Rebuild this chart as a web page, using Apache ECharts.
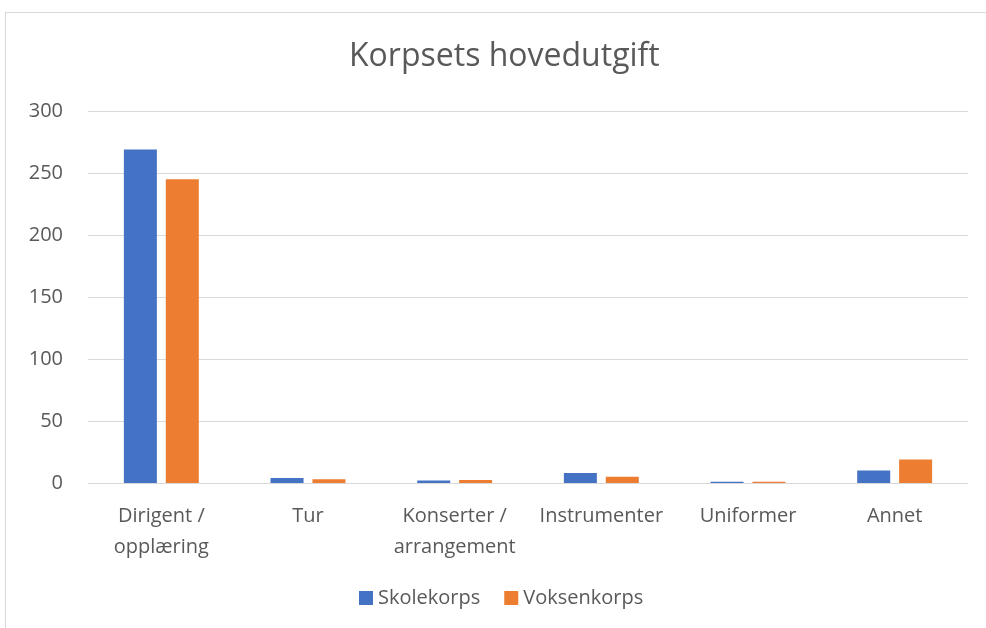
<!DOCTYPE html>
<html>
<head>
<meta charset="utf-8">
<script src="https://cdn.jsdelivr.net/npm/echarts@6/dist/echarts.min.js"></script>
<style>
  html, body { margin: 0; padding: 0; background: #fff; }
  #main { width: 986px; height: 628px; }
  .frame { position: absolute; left: 5px; top: 12px; width: 990px; height: 630px; border: 1px solid #d9d9d9; box-sizing: border-box; pointer-events: none; }
</style>
</head>
<body>
<div id="main"></div>
<div class="frame"></div>
<script>
  var categories = ['Dirigent /\nopplæring', 'Tur', 'Konserter /\narrangement', 'Instrumenter', 'Uniformer', 'Annet'];
  var skolekorps = [269, 4, 2, 8, 1, 10];
  var voksenkorps = [245, 3, 2.5, 5, 1, 19];
  var yTicks = [0, 50, 100, 150, 200, 250, 300];

  var myChart = echarts.init(document.getElementById('main'));
  var textColor = '#595959';
  var font = 'Open Sans';

  var option = {
    backgroundColor: '#fff',
    animation: false,
    title: {
      text: 'Korpsets hovedutgift',
      left: 344,
      top: 36,
      textStyle: { color: textColor, fontSize: 32, fontWeight: 'normal', fontFamily: font }
    },
    legend: {
      bottom: 15,
      left: 354,
      itemWidth: 14,
      itemHeight: 14,
      itemGap: 24,
      icon: 'rect',
      textStyle: { color: textColor, fontSize: 20, fontFamily: font },
      data: ['Skolekorps', 'Voksenkorps']
    },
    grid: { left: 88, right: 18, top: 111, bottom: 145, containLabel: false },
    xAxis: {
      type: 'category',
      data: categories,
      axisLine: { lineStyle: { color: '#d9d9d9', width: 1 } },
      axisTick: { show: false },
      axisLabel: { color: textColor, fontSize: 20, fontFamily: font, margin: 18, lineHeight: 31, interval: 0 }
    },
    yAxis: {
      type: 'value',
      min: 0,
      max: yTicks[yTicks.length - 1],
      interval: 50,
      axisLine: { show: false },
      axisTick: { show: false },
      splitLine: { lineStyle: { color: '#d9d9d9', width: 1 } },
      axisLabel: { color: textColor, fontSize: 20, fontFamily: font, margin: 25 }
    },
    series: [
      {
        name: 'Skolekorps',
        type: 'bar',
        data: skolekorps,
        barWidth: 33,
        barGap: '27%',
        itemStyle: { color: '#4472C4' }
      },
      {
        name: 'Voksenkorps',
        type: 'bar',
        data: voksenkorps,
        barWidth: 33,
        itemStyle: { color: '#ED7D31' }
      }
    ]
  };
  myChart.setOption(option);
</script>
</body>
</html>
